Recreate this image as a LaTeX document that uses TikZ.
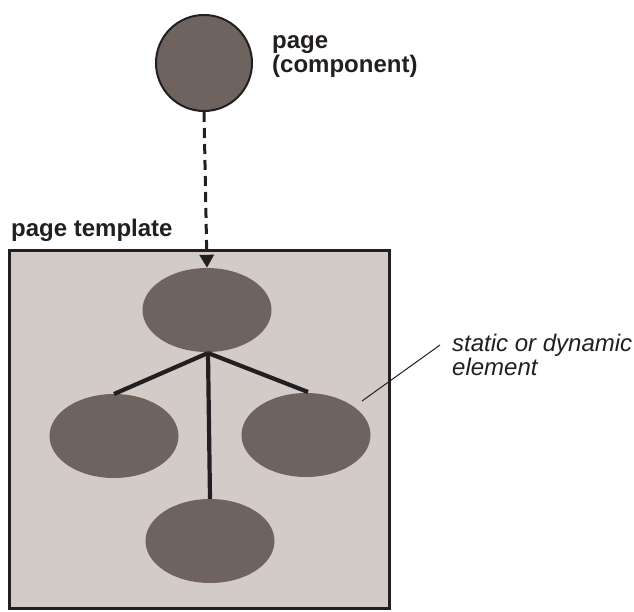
\documentclass[tikz,border=0pt]{standalone}
\usepackage{fontspec}
\setmainfont{Liberation Sans}
\usetikzlibrary{arrows.meta,shapes.geometric}
\definecolor{ink}{HTML}{231F20}
\definecolor{elemfill}{HTML}{6F6360}
\definecolor{panelfill}{HTML}{D3CBC8}
\tikzset{
  elem/.style={ellipse, fill=elemfill, minimum width=129pt, minimum height=84pt, inner sep=0pt},
  tree/.style={draw=ink, line width=4.2pt},
  lbl/.style={font=\fontsize{24}{22}\selectfont\bfseries, text=ink, align=left, inner sep=0pt},
  note/.style={font=\fontsize{24}{22}\selectfont\itshape, text=ink, align=left, inner sep=0pt}
}
\begin{document}
\begin{tikzpicture}[x=1pt, y=-1pt]
  \useasboundingbox (0,0) rectangle (634,611);
  % page template panel
  \node[draw=ink, line width=3pt, fill=panelfill, minimum width=380pt, minimum height=358pt, inner sep=0pt] (panel) at (199,429) {};
  \node[lbl, anchor=base west] (tpl) at (11,236) {page template};
  % page component
  \node[circle, draw=ink, line width=2pt, fill=elemfill, minimum size=96pt, inner sep=0pt] (page) at (204,63) {};
  \node[lbl, anchor=base west] (pagelbl) at (272,72) {page\\(component)};
  % elements in the template
  \node[elem] (top) at (207,310) {};
  \node[elem] (left) at (114,436) {};
  \node[elem] (right) at (306,435) {};
  \node[elem] (bottom) at (210,541) {};
  \coordinate (hub) at (208,353);
  \coordinate (lend) at (114,394);
  \coordinate (rend) at (308,392);
  \draw[tree] (hub) -- (lend);
  \draw[tree] (hub) -- (rend);
  \draw[tree] (hub) -- (bottom.north);
  % dashed reference from the page to its template root
  \draw[draw=ink, line width=3pt, dash pattern=on 10pt off 6pt,
        -{Triangle[length=13pt, width=14pt]}] (page.south) -- (top.north);
  % callout
  \node[note, anchor=base west] (note) at (452,375) {static or dynamic\\element};
  \coordinate (callend) at (362,401);
  \coordinate (callstart) at (440,345);
  \draw[draw=ink, line width=1pt] (callend) -- (callstart);
\end{tikzpicture}
\end{document}
